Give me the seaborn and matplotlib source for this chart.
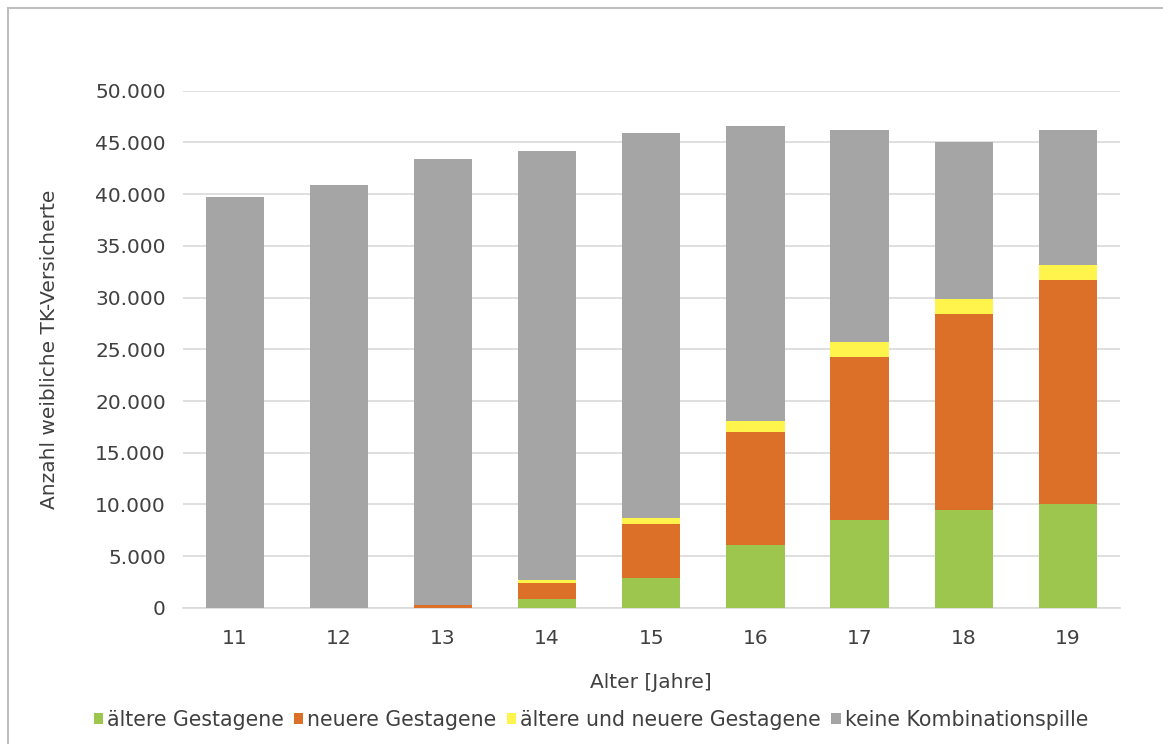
import matplotlib
matplotlib.use("Agg")
import matplotlib.pyplot as plt
from matplotlib.patches import Rectangle
from matplotlib.ticker import FuncFormatter
import seaborn as sns
import numpy as np
import pandas as pd

ages = ["11", "12", "13", "14", "15", "16", "17", "18", "19"]
aeltere = [0, 0, 0, 900, 2900, 6100, 8500, 9500, 10000]
neuere = [0, 0, 300, 1500, 5200, 10900, 15800, 18900, 21700]
beide = [0, 0, 0, 300, 600, 1100, 1400, 1500, 1500]
keine = [39700, 40900, 43100, 41500, 37200, 28500, 20500, 15100, 13000]

series_names = ["ältere Gestagene", "neuere Gestagene",
                "ältere und neuere Gestagene", "keine Kombinationspille"]
colors = ["#9DC64F", "#DD7029", "#FFF44C", "#A5A5A5"]

sns.set_theme(style="white")
plt.rcParams['font.family'] = ['DejaVu Sans']

fig = plt.figure(figsize=(11.63, 7.44), dpi=100)
ax = fig.add_axes([0.157, 0.183, 0.806, 0.695])

stack = np.cumsum(np.array([aeltere, neuere, beide, keine]), axis=0)
for i in range(3, -1, -1):
    df = pd.DataFrame({"Alter": ages, "Wert": stack[i]})
    sns.barplot(data=df, x="Alter", y="Wert", color=colors[i], width=0.56,
                saturation=1, ax=ax, linewidth=0, label=series_names[i], zorder=3)

handles, labels = ax.get_legend_handles_labels()
if ax.get_legend() is not None:
    ax.get_legend().remove()

ax.set_ylim(0, 50000)
ax.set_yticks(np.arange(0, 50001, 5000))
ax.yaxis.set_major_formatter(FuncFormatter(lambda v, p: f"{int(v):,}".replace(",", ".")))
ax.grid(axis="y", color="#D9D9D9", linewidth=1.2, zorder=0)
ax.set_axisbelow(True)
for s in ["top", "right", "left"]:
    ax.spines[s].set_visible(False)
ax.spines["bottom"].set_color("#D9D9D9")
ax.spines["bottom"].set_linewidth(1.2)
ax.tick_params(axis="y", length=0, labelsize=14.5, labelcolor="#404040", pad=12)
ax.tick_params(axis="x", length=0, labelsize=14.5, labelcolor="#404040", pad=15)
ax.set_xlabel("Alter [Jahre]", fontsize=14.5, color="#404040", labelpad=18)
ax.set_ylabel("Anzahl weibliche TK-Versicherte", fontsize=14.5, color="#404040", labelpad=26)

order = [series_names.index(l) for l in labels]
hl = sorted(zip(order, handles, labels))
fig.legend([h for _, h, _ in hl], [l for _, _, l in hl], loc="center",
           bbox_to_anchor=(0.508, 0.032), ncol=4, frameon=False,
           fontsize=14.8, handlelength=0.45, handleheight=0.45,
           handletextpad=0.2, columnspacing=0.5, labelcolor="#404040")

fig.patches.append(Rectangle((8 / 1163, -0.01), 1.2, 1.0 - 8 / 744 + 0.01,
                             transform=fig.transFigure, fill=False,
                             edgecolor="#BFBFBF", linewidth=1.5))

fig.savefig("out.png", dpi=100)
